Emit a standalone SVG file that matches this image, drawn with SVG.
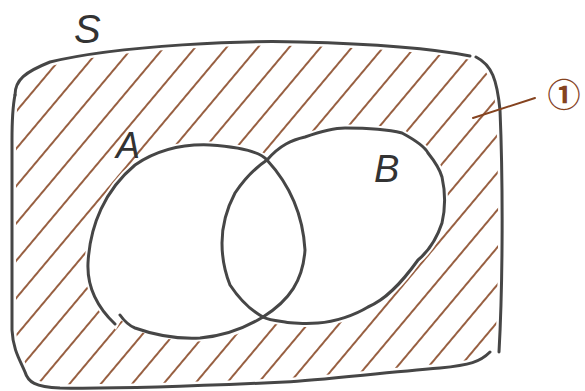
<svg xmlns="http://www.w3.org/2000/svg" width="585" height="391" viewBox="0 0 585 391">
<style>
.ink{fill:none;stroke:#464646;stroke-width:3;stroke-linecap:round;stroke-linejoin:round}
.lbl{font-family:"Liberation Sans","DejaVu Sans",sans-serif;fill:#333;font-style:italic}
.brown{stroke:#85431f;stroke-width:2;fill:none;stroke-linecap:round}
</style>
<defs>
<pattern id="hatch" width="24" height="40" patternUnits="userSpaceOnUse" patternTransform="rotate(40)">
<line x1="12" y1="0" x2="12" y2="40" stroke="#85431f" stroke-width="1.7"/>
</pattern>
<mask id="outside" maskUnits="userSpaceOnUse" x="0" y="0" width="585" height="391">
<path d="M15,95 C15,80 25,72 50,62 C120,45 250,40 300,42 C380,44 440,50 472,56 C492,65 497,80 500,110 C503,180 503,280 499,352 C480,362 470,365 440,368 C380,373 320,380 285,382 C200,386 120,389 60,388 C35,387 28,382 25,372 C20,360 13,350 12,330 L12,140 C12,115 14,100 15,95 Z" fill="#fff" stroke="#000" stroke-width="8"/>
<path d="M115,324 C95,305 87,285 88,263 C90,225 105,190 135,165 C160,148 185,144 210,145 C240,147 260,152 267,160 C290,185 303,215 305,250 C303,280 290,300 263,317 C240,332 220,338 195,338 C165,337 140,332 120,315 Z" fill="#000" stroke="#000" stroke-width="7"/>
<path d="M267,160 C280,145 292,140 305,137 C325,130 335,128 345,128 C370,128 390,130 402,133 C415,140 425,147 428,153 C436,163 440,170 442,177 C446,195 445,210 442,223 C438,235 430,250 418,260 C400,285 385,300 368,307 C355,315 335,322 318,323 C305,324 290,323 285,322 C270,320 266,319 263,317 C250,310 240,300 230,285 C224,270 222,255 222,243 C222,225 226,210 235,193 C245,178 255,168 267,160 Z" fill="#000" stroke="#000" stroke-width="7"/>
</mask>
</defs>
<g id="hatching">
<rect x="0" y="0" width="585" height="391" fill="url(#hatch)" mask="url(#outside)"/>
</g>
<g id="S">
<path class="ink" d="M15,95 C15,80 25,72 50,62 C120,45 250,40 300,42 C380,44 440,50 470,56"/>
<path class="ink" d="M476,57 C492,65 497,80 500,110 C503,180 503,280 499,352"/>
<path class="ink" d="M490,352 C480,362 470,365 440,368 C380,373 320,380 285,382 C200,386 120,389 60,388 C35,387 28,382 25,372 C20,360 13,350 12,330 L12,140 C12,115 14,100 15,95"/>
<text class="lbl" x="74" y="43" font-size="40">S</text>
</g>
<g id="A">
<path class="ink" d="M115,324 C95,305 87,285 88,263 C90,225 105,190 135,165 C160,148 185,144 210,145 C240,147 260,152 267,160 C290,185 303,215 305,250 C303,280 290,300 263,317"/>
<path class="ink" d="M120,315 C125,322 130,326 135,328 C160,337 180,339 200,338 C225,336 245,328 263,317"/>
<text class="lbl" x="116" y="158" font-size="36">A</text>
</g>
<g id="B">
<path class="ink" d="M267,160 C280,145 292,140 305,137 C325,130 335,128 345,128 C370,128 390,130 402,133 C415,140 425,147 428,153 C436,163 440,170 442,177 C446,195 445,210 442,223 C438,235 430,250 418,260 C400,285 385,300 368,307 C355,315 335,322 318,323 C305,324 290,323 285,322 C270,320 266,319 263,317 C250,310 240,300 230,285 C224,270 222,255 222,243 C222,225 226,210 235,193 C245,178 255,168 267,160 Z"/>
<text class="lbl" x="374" y="182" font-size="38">B</text>
</g>
<g id="label1">
<line class="brown" x1="473" y1="118" x2="535" y2="98"/>
<text x="564" y="107" font-size="33" font-weight="bold" text-anchor="middle" fill="#85431f" font-family="Noto Sans CJK JP, DejaVu Sans, sans-serif">①</text>
</g>
</svg>
